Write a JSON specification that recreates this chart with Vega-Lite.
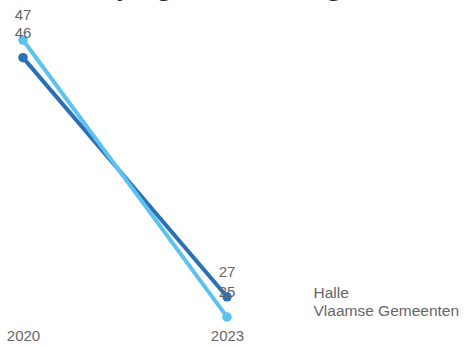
{
  "$schema": "https://vega.github.io/schema/vega-lite/v6.json",
  "width": 466,
  "height": 345,
  "autosize": "none",
  "padding": 0,
  "title": {
    "text": "Aandeel jongeren met zorgen (in %)",
    "anchor": "start",
    "orient": "top",
    "baseline": "alphabetic",
    "offset": -21,
    "fontSize": 26,
    "font": "Open Sans",
    "fontWeight": "normal",
    "color": "#252423",
    "dx": 14
  },
  "config": {"view": {"stroke": null}},
  "data": {
    "values": [
      {"jaar": 2020, "gebied": "Halle", "waarde": 45.6},
      {"jaar": 2023, "gebied": "Halle", "waarde": 26.6},
      {"jaar": 2020, "gebied": "Vlaamse Gemeenten", "waarde": 47},
      {"jaar": 2023, "gebied": "Vlaamse Gemeenten", "waarde": 25}
    ]
  },
  "encoding": {
    "x": {
      "field": "jaar",
      "type": "quantitative",
      "scale": {"domain": [2020, 2023], "range": [23, 227], "nice": false, "zero": false},
      "axis": {
        "values": [2020, 2023],
        "format": "d",
        "domain": false,
        "ticks": false,
        "grid": false,
        "title": null,
        "labelFlush": false,
        "labelFont": "Liberation Sans",
        "labelFontSize": 15,
        "labelColor": "#666666",
        "labelPadding": 0,
        "offset": -17
      }
    },
    "y": {
      "field": "waarde",
      "type": "quantitative",
      "scale": {"domain": [22.77, 50.18], "zero": false, "nice": false},
      "axis": null
    },
    "color": {
      "field": "gebied",
      "type": "nominal",
      "scale": {"domain": ["Halle", "Vlaamse Gemeenten"], "range": ["#2B6FB6", "#5CC2EF"]},
      "legend": {
        "title": null,
        "orient": "none",
        "legendX": 294,
        "legendY": 285,
        "symbolSize": 0,
        "symbolOpacity": 0,
        "symbolStrokeWidth": 0,
        "labelFont": "Liberation Sans",
        "labelFontSize": 15.5,
        "labelColor": "#666666",
        "rowPadding": 1.5,
        "padding": 0
      }
    }
  },
  "layer": [
    {"mark": {"type": "line", "strokeWidth": 4}},
    {"mark": {"type": "point", "filled": true, "size": 90, "opacity": 1}},
    {
      "mark": {"type": "text", "dy": -25, "baseline": "middle", "fontSize": 15, "font": "Liberation Sans"},
      "encoding": {"text": {"field": "waarde", "type": "quantitative", "format": ".0f"}, "color": {"value": "#666666"}}
    }
  ]
}
